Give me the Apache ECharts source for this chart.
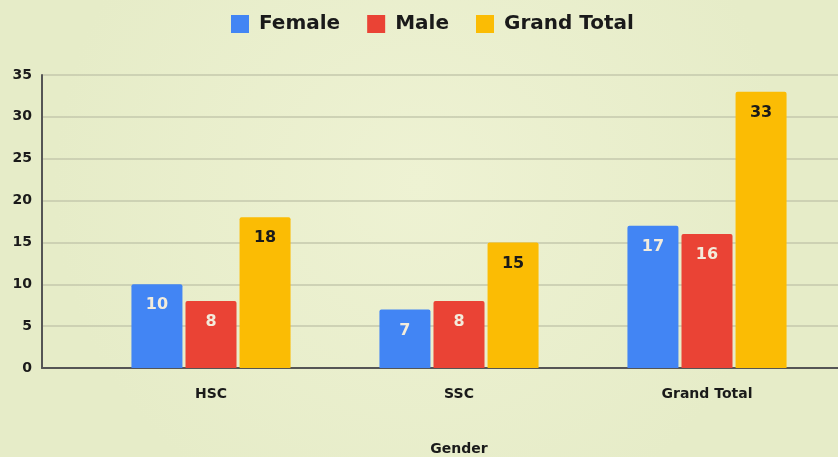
<!DOCTYPE html>
<html>
<head>
<meta charset="utf-8">
<script src="https://cdn.jsdelivr.net/npm/echarts@6/dist/echarts.min.js"></script>
<style>
	html, body { margin: 0; padding: 0; }
	#chart { width: 838px; height: 457px; }
</style>
</head>
<body>
<div id="chart"></div>
<script>
// data
var categories = ['HSC', 'SSC', 'Grand Total'];
var female = [10, 7, 17];
var male = [8, 8, 16];
var grandTotal = [18, 15, 33];
var yTicks = [0, 5, 10, 15, 20, 25, 30, 35];

var font = '"DejaVu Sans", sans-serif';
var chart = echarts.init(document.getElementById('chart'));

function barSeries(name, data, color, labelColor) {
	return {
		name : name,
		type : 'bar',
		xAxisIndex : 1,
		yAxisIndex : 1,
		data : data,
		barWidth : 51,
		barGap : '6%',
		itemStyle : { color : color, borderRadius : [2, 2, 0, 0] },
		label : {
			show : true,
			position : 'insideTop',
			distance : 13,
			color : labelColor,
			fontFamily : font,
			fontWeight : 'bold',
			fontSize : 16
		}
	};
}

var option = {
	backgroundColor : {
		type : 'radial', x : 0.5, y : 0.4, r : 0.8,
		colorStops : [ { offset : 0, color : '#eef2d3' }, { offset : 1, color : '#e6ecc8' } ]
	},
	legend : {
		top : 9,
		left : 226,
		itemWidth : 18,
		itemHeight : 18,
		itemGap : 27,
		icon : 'rect',
		textStyle : { fontFamily : font, fontWeight : 'bold', fontSize : 20, color : '#1a1a1a', padding : [0, 0, 0, 5] },
		data : ['Female', 'Male', 'Grand Total']
	},
	grid : [
		{ left : 42, right : 0, top : 75, bottom : 89, outerBoundsMode : 'none' },
		{ left : 87, right : 7, top : 75, bottom : 89, outerBoundsMode : 'none' }
	],
	xAxis : [ {
		gridIndex : 0,
		type : 'category',
		data : [''],
		axisLine : { lineStyle : { color : '#555', width : 2 } },
		axisTick : { show : false },
		axisLabel : { show : false }
	}, {
		gridIndex : 1,
		type : 'category',
		data : categories,
		axisLine : { show : false },
		axisTick : { show : false },
		axisLabel : { color : '#1a1a1a', fontFamily : font, fontWeight : 'bold', fontSize : 14, margin : 19 },
		name : 'Gender',
		nameLocation : 'middle',
		nameGap : 74,
		nameTextStyle : { color : '#1a1a1a', fontFamily : font, fontWeight : 'bold', fontSize : 14 }
	} ],
	yAxis : [ {
		gridIndex : 0,
		type : 'value',
		min : yTicks[0],
		max : yTicks[yTicks.length - 1],
		interval : 5,
		axisLine : { show : true, lineStyle : { color : '#555', width : 2 } },
		axisTick : { show : false },
		axisLabel : { color : '#1a1a1a', fontFamily : font, fontWeight : 'bold', fontSize : 14, margin : 10 },
		splitLine : { lineStyle : { color : '#c4c8ac', width : 1.5 } }
	}, {
		gridIndex : 1,
		type : 'value',
		min : yTicks[0],
		max : yTicks[yTicks.length - 1],
		interval : 5,
		show : false,
		splitLine : { show : false }
	} ],
	series : [
		barSeries('Female', female, '#4285f4', '#f3ecdc'),
		barSeries('Male', male, '#ea4335', '#f3ecdc'),
		barSeries('Grand Total', grandTotal, '#fbbc04', '#1a1a1a')
	]
};
chart.setOption(option);
</script>
</body>
</html>
